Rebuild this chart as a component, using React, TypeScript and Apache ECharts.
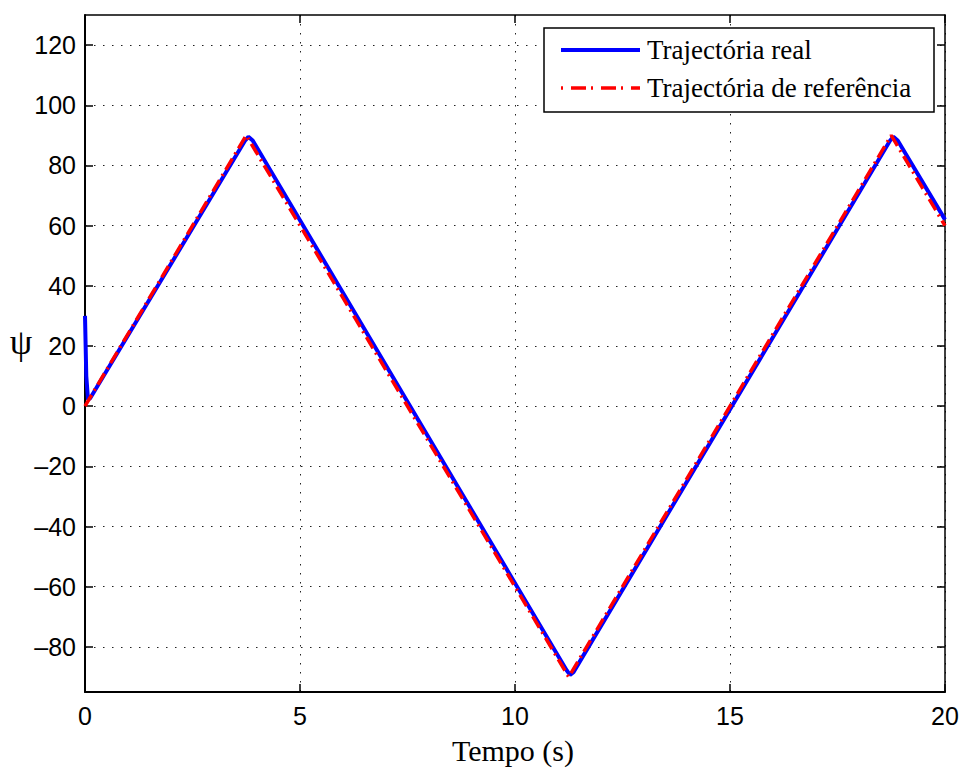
import React, { useEffect, useRef } from "react";
import * as echarts from "echarts";

const xTicks = [0, 5, 10, 15, 20];
const yTicks = [-80, -60, -40, -20, 0, 20, 40, 60, 80, 100, 120];

// Trajectória real (t, psi)
const realT = [0, 0.03, 0.07, 0.12, 3.72, 3.8, 3.9, 11.2, 11.28, 11.36, 18.72, 18.8, 18.9, 20];
const realPsi = [30, 10, 2.2, 2.6, 88.2, 89.5, 88.3, -87.8, -89.3, -88.4, 88.2, 89.5, 88.3, 62];

// Trajectória de referência (t, psi)
const refT = [0, 3.75, 11.25, 18.75, 20];
const refPsi = [0, 90, -90, 90, 60];

const seriesNames = ["Trajectória real", "Trajectória de referência"];

const fmt = (v: number) => (v < 0 ? "–" + Math.abs(v) : String(v));

export default function App() {
  const ref = useRef<HTMLDivElement>(null);
  useEffect(() => {
    if (!ref.current) return;
    const chart = echarts.init(ref.current, null, { renderer: "svg" });
    const realData = realT.map((t, i) => [t, realPsi[i]]);
    const refData = refT.map((t, i) => [t, refPsi[i]]);
    const labelStyle = { color: "#000", fontSize: 25, fontFamily: "'Liberation Sans', Arial, sans-serif" };
    const grid = { left: 85, top: 15, right: 17, bottom: 78 };
    const splitLine = { show: true, lineStyle: { color: "#222", width: 1, type: [1.5, 7.5] as any } };
    const serif = "'Liberation Serif', 'Times New Roman', serif";
    chart.setOption({
      animation: false,
      backgroundColor: "#fff",
      grid,
      xAxis: [
        {
          type: "value", min: 0, max: 20, interval: 5, position: "bottom",
          axisLine: { show: true, onZero: false, lineStyle: { color: "#000", width: 2 } },
          axisTick: { show: true, inside: true, length: 8, customValues: xTicks, lineStyle: { color: "#000", width: 1.5 } },
          axisLabel: { ...labelStyle, margin: 11, customValues: xTicks, formatter: (v: number) => fmt(v) },
          splitLine,
        },
        {
          type: "value", min: 0, max: 20, interval: 5, position: "top",
          axisLine: { show: true, onZero: false, lineStyle: { color: "#000", width: 1.5 } },
          axisTick: { show: true, inside: true, length: 8, lineStyle: { color: "#000", width: 1.5 } },
          axisLabel: { show: false },
          splitLine: { show: false },
        },
      ],
      yAxis: [
        {
          type: "value", min: -95, max: 130, position: "left",
          axisLine: { show: true, onZero: false, lineStyle: { color: "#000", width: 2 } },
          axisTick: { show: true, inside: true, length: 8, customValues: yTicks, lineStyle: { color: "#000", width: 1.5 } },
          axisLabel: { ...labelStyle, margin: 9, customValues: yTicks, formatter: (v: number) => fmt(v) },
          splitLine,
        },
        {
          type: "value", min: -95, max: 130, position: "right",
          axisLine: { show: true, onZero: false, lineStyle: { color: "#000", width: 1.5 } },
          axisTick: { show: true, inside: true, length: 8, customValues: yTicks, lineStyle: { color: "#000", width: 1.5 } },
          axisLabel: { show: false, customValues: yTicks },
          splitLine: { show: false },
        },
      ],
      series: [
        {
          name: seriesNames[0], type: "line", data: realData, showSymbol: false,
          lineStyle: { color: "#0000ff", width: 4 }, z: 2, clip: true,
        },
        {
          name: seriesNames[1], type: "line", data: refData, showSymbol: false,
          lineStyle: { color: "#ff0000", width: 3.5, type: [13, 5, 2, 5] as any }, z: 3, clip: true,
        },
      ],
      graphic: [
        {
          type: "rect", z: 100, shape: { x: 544, y: 28, width: 390, height: 84 },
          style: { fill: "#fff", stroke: "#000", lineWidth: 1.5 },
        },
        {
          type: "line", z: 101, shape: { x1: 561, y1: 50, x2: 640, y2: 50 },
          style: { stroke: "#0000ff", lineWidth: 4 },
        },
        {
          type: "line", z: 101, shape: { x1: 561, y1: 88, x2: 640, y2: 88 },
          style: { stroke: "#ff0000", lineWidth: 3.5, lineDash: [2, 8, 15, 5, 2, 8, 15, 5] },
        },
        {
          type: "text", z: 101, x: 647, y: 50,
          style: { text: seriesNames[0], fill: "#000", font: "27px " + serif, verticalAlign: "middle" },
        },
        {
          type: "text", z: 101, x: 647, y: 88,
          style: { text: seriesNames[1], fill: "#000", font: "27px " + serif, verticalAlign: "middle" },
        },
        {
          type: "text", x: 513, y: 750,
          style: { text: "Tempo (s)", fill: "#000", font: "30px " + serif, align: "center", verticalAlign: "middle" },
        },
        {
          type: "text", x: 21, y: 342,
          style: { text: "ψ", fill: "#000", font: "36px " + serif, align: "center", verticalAlign: "middle" },
        },
      ],
    });
    return () => chart.dispose();
  }, []);
  return (
    <div
      ref={ref}
      style={{ position: "fixed", left: 0, top: 0, width: 962, height: 770, background: "#fff" }}
    />
  );
}
